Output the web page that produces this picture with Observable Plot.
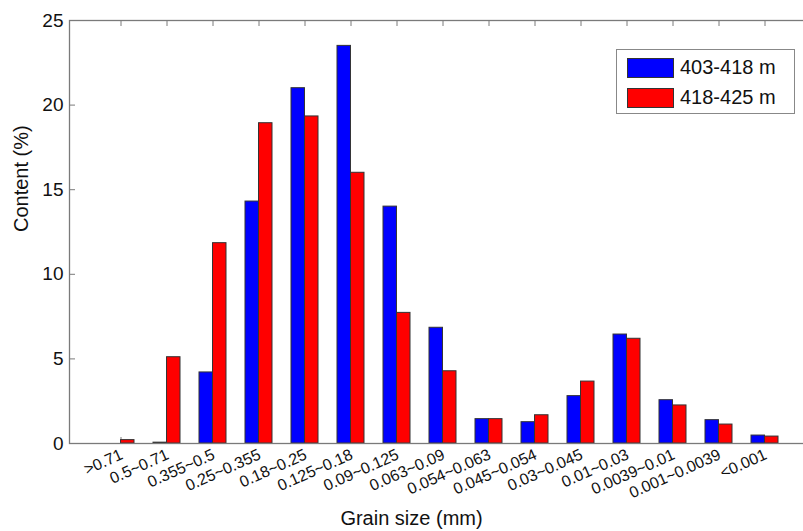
<!DOCTYPE html>
<html>
<head>
<meta charset="utf-8">
<script src="https://cdn.jsdelivr.net/npm/d3@7"></script>
<script src="https://cdn.jsdelivr.net/npm/@observablehq/plot@0.6"></script>
<style>
  html, body { margin: 0; padding: 0; background: white; overflow: hidden; }
  #wrap { position: relative; width: 817px; height: 531px; }
  #legend {
    position: absolute; left: 616px; top: 49px; width: 177px; height: 63px;
    border: 1px solid #888; background: white;
    font-family: "Liberation Sans", Arial, sans-serif; font-size: 20px; color: #111;
  }
  .row { position: absolute; left: 10px; display: flex; align-items: center; }
  .sw { width: 47px; height: 20px; border: 1px solid #333; box-sizing: border-box; margin-right: 6px; }
</style>
</head>
<body>
<div id="wrap"></div>
<script>
const categories = [">0.71","0.5~0.71","0.355~0.5","0.25~0.355","0.18~0.25","0.125~0.18","0.09~0.125","0.063~0.09","0.054~0.063","0.045~0.054","0.03~0.045","0.01~0.03","0.0039~0.01","0.001~0.0039","<0.001"];
const seriesNames = ["403-418 m", "418-425 m"];
const seriesColors = ["#0000ff", "#ff0000"];
const values403 = [0, 0.05, 4.2, 14.3, 21.0, 23.5, 14.0, 6.84, 1.44, 1.26, 2.8, 6.44, 2.56, 1.38, 0.47];
const values418 = [0.2, 5.1, 11.84, 18.93, 19.33, 16.0, 7.72, 4.27, 1.44, 1.67, 3.66, 6.19, 2.25, 1.12, 0.41];
const yTicks = [0, 5, 10, 15, 20, 25];
const xTitle = "Grain size (mm)";
const yTitle = "Content (%)";

const rows403 = categories.map((c, i) => ({cat: c, series: seriesNames[0], value: values403[i]}));
const rows418 = categories.map((c, i) => ({cat: c, series: seriesNames[1], value: values418[i]}));

const W = 817, H = 531;
const mL = 69, mR = 2, mT = 20, mB = 88;
const frameW = W - mL - mR, frameH = H - mT - mB;
const bandW = 0.58 * (frameW / 16);
const tk = 6;
const axisGray = "#7a7a7a";

const chart = Plot.plot({
  width: W, height: H,
  marginLeft: mL, marginRight: mR, marginTop: mT, marginBottom: mB,
  style: {fontFamily: "'Liberation Sans', Arial, sans-serif", background: "white", color: "#111"},
  x: {domain: categories, paddingInner: 0.42, paddingOuter: 0.71, axis: null},
  y: {domain: [0, 25], axis: null},
  color: {domain: seriesNames, range: seriesColors},
  marks: [
    Plot.ruleX(categories, {x: d => d, insetTop: frameH - tk, stroke: axisGray}),
    Plot.barY(rows403, {x: "cat", y: "value", fill: "series", stroke: "#333", strokeWidth: 1, insetRight: bandW / 2}),
    Plot.barY(rows418, {x: "cat", y: "value", fill: "series", stroke: "#333", strokeWidth: 1, insetLeft: bandW / 2}),
    Plot.frame({stroke: axisGray, strokeWidth: 1.3}),
    Plot.ruleX(categories, {x: d => d, insetBottom: frameH - tk, stroke: axisGray}),
    Plot.ruleY(yTicks, {y: d => d, insetRight: frameW - tk, stroke: axisGray}),
    Plot.text(yTicks, {y: d => d, frameAnchor: "left", textAnchor: "end", dx: -6, fontSize: 19, fill: "#111"}),
    Plot.text(categories, {x: d => d, frameAnchor: "bottom", textAnchor: "end", rotate: -24, dx: 3, dy: 15, fontSize: 16, fill: "#111"}),
    Plot.text([yTitle], {frameAnchor: "left", rotate: -90, dx: -48, fontSize: 20, fill: "#111"}),
    Plot.text([xTitle], {frameAnchor: "bottom", dy: 81, dx: -31, fontSize: 20, fill: "#111"})
  ]
});
document.getElementById("wrap").appendChild(chart);

const legend = document.createElement("div");
legend.id = "legend";
seriesNames.forEach((name, i) => {
  const row = document.createElement("div");
  row.className = "row";
  row.style.top = (6 + i * 30) + "px";
  const sw = document.createElement("div");
  sw.className = "sw";
  sw.style.background = seriesColors[i];
  const tx = document.createElement("span");
  tx.textContent = name;
  row.appendChild(sw); row.appendChild(tx);
  legend.appendChild(row);
});
document.getElementById("wrap").appendChild(legend);
</script>
</body>
</html>
